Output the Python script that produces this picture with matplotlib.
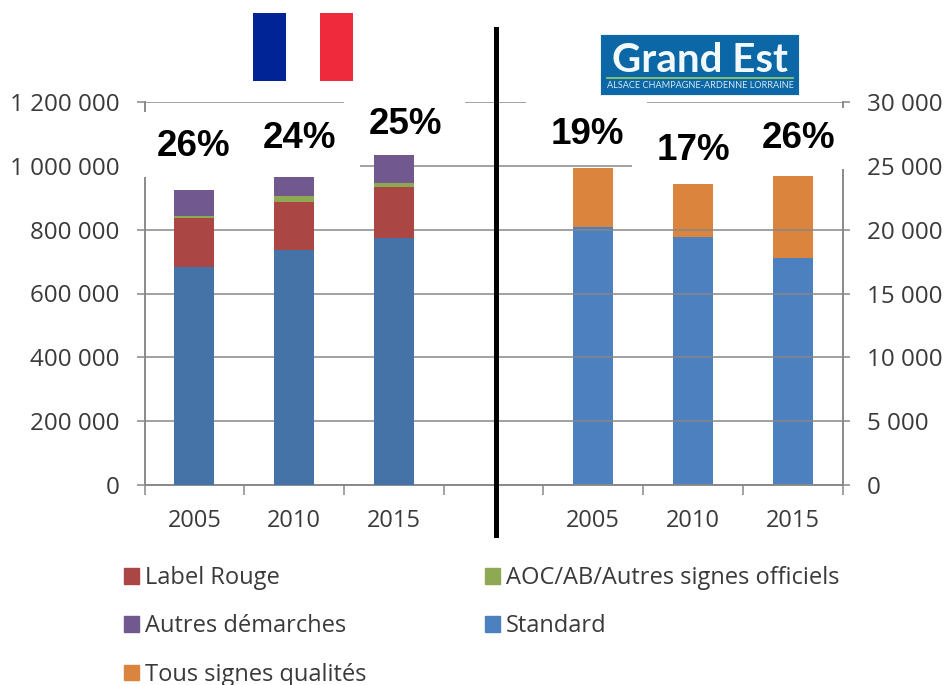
import matplotlib
matplotlib.use('Agg')
import matplotlib.pyplot as plt
from matplotlib.patches import Rectangle, FancyBboxPatch

W, H = 944, 685

years = ['2005', '2010', '2015', '', '2005', '2010', '2015']

# France, on the left axis
standard_fr = [683000, 736000, 773000]
label_rouge = [153000, 152000, 160000]
aoc = [7000, 19000, 14000]
autres = [81000, 66000, 86000]
pct_fr = ['26%', '24%', '25%']

# Grand Est, on the right axis
standard_ge = [20200, 19400, 17800]
qualite = [4600, 4150, 6400]
pct_ge = ['19%', '17%', '26%']

left_ticks = [0, 200000, 400000, 600000, 800000, 1000000, 1200000]
right_ticks = [0, 5000, 10000, 15000, 20000, 25000, 30000]


def fmt(v):
    return f'{v:,}'.replace(',', ' ')


def fx(px):
    return px / W


def fy(py):
    return 1 - py / H


plt.rcParams['font.family'] = ['Open Sans', 'DejaVu Sans']
GREY = '#878787'
TXT = '#3a3a3a'

fig = plt.figure(figsize=(W / 100, H / 100), dpi=100)
ax = fig.add_axes([fx(144.5), fy(485), fx(842.5 - 144.5), (485 - 102) / H])
ax2 = ax.twinx()
ax.set_zorder(2)
ax2.set_zorder(1)
ax.patch.set_visible(False)

pos_fr = [0, 1, 2]
pos_ge = [4, 5, 6]
w = 0.4

c_std_fr, c_std_ge = '#4572a7', '#4d80bf'
c_red, c_green, c_purple, c_orange = '#aa4643', '#8fa854', '#71588f', '#db843d'

b = [0, 0, 0]
for vals, col in [(standard_fr, c_std_fr), (label_rouge, c_red), (aoc, c_green), (autres, c_purple)]:
    ax.bar(pos_fr, vals, w, bottom=b, color=col, zorder=3)
    b = [x + y for x, y in zip(b, vals)]
ax2.bar(pos_ge, standard_ge, w, color=c_std_ge, zorder=3)
ax2.bar(pos_ge, qualite, w, bottom=standard_ge, color=c_orange, zorder=3)

ax.set_xlim(-0.5, 6.5)
ax.set_ylim(0, 1200000)
ax2.set_ylim(0, 30000)
ax.set_xticks([i - 0.5 for i in range(8)])
ax.set_xticks(range(7), minor=True)
ax.set_xticklabels([])
ax.set_xticklabels(years, minor=True)
ax.tick_params(axis='x', which='major', length=7.5, width=1.1, color=GREY)
ax.tick_params(axis='x', which='minor', length=0, pad=17, labelsize=17, labelcolor=TXT)
ax.set_yticks(left_ticks)
ax.set_yticklabels([fmt(v) for v in left_ticks])
ax.tick_params(axis='y', length=6, width=1.1, color=GREY, pad=12, labelsize=17.4, labelcolor=TXT)
ax2.set_yticks(right_ticks)
ax2.set_yticklabels([fmt(v) for v in right_ticks])
ax2.tick_params(axis='y', length=5, width=1.1, color=GREY, pad=12.5, labelsize=17.4, labelcolor=TXT)
ax.grid(axis='y', color=GREY, lw=1.1, zorder=0)
ax.set_axisbelow(True)
for a in (ax, ax2):
    a.spines['top'].set_visible(False)
    for s in ('left', 'right', 'bottom'):
        a.spines[s].set_color(GREY)
        a.spines[s].set_linewidth(1.1)

# white boxes that sat behind the percentages and hide the grid
for x0, y0, x1, y1 in [(130, 112, 360, 177), (344, 97, 465, 150),
                       (526, 97, 647, 150), (632, 108, 853, 169)]:
    fig.add_artist(Rectangle((fx(x0), fy(y1)), fx(x1 - x0), (y1 - y0) / H, color='white', lw=0, zorder=5))

# percentages
pct_xy = [(194, 147), (300, 139), (405, 125), (587, 135), (693, 150), (799, 139)]
for s, (x, y) in zip(pct_fr + pct_ge, pct_xy):
    fig.text(fx(x), fy(y), s, ha='center', va='center', fontsize=26.5, fontweight='bold',
             family='Liberation Sans', color='black', zorder=6)

# separator
fig.add_artist(plt.Line2D([fx(495.5), fx(495.5)], [fy(29), fy(535)], color='black', lw=3.6, zorder=6))

# flag
fig.add_artist(Rectangle((fx(253), fy(81)), fx(33), 68 / H, color='#002395', lw=0, zorder=6))
fig.add_artist(Rectangle((fx(320), fy(81)), fx(33), 68 / H, color='#ee2a3c', lw=0, zorder=6))

# logo
logo = '#0b67a5'
fig.add_artist(FancyBboxPatch((fx(603), fy(93)), fx(194), 56 / H, boxstyle='round,pad=0', color=logo, lw=3, zorder=6))
fig.text(fx(700), fy(72), 'Grand Est', ha='center', va='baseline', fontsize=29, fontweight='bold',
         family='Lato', color='#f2f9fc', zorder=7)
fig.add_artist(plt.Line2D([fx(607), fx(793)], [fy(77.5), fy(77.5)], color='#8ec86a', lw=1.3, zorder=7))
fig.text(fx(700), fy(86), 'ALSACE CHAMPAGNE-ARDENNE LORRAINE', ha='center', va='center', fontsize=6.6,
         family='Lato', color='#d5e8f2', zorder=7)

# legend, column by column
handles = [Rectangle((0, 0), 1, 1, color=c) for c in (c_red, c_purple, c_orange, c_green, '#4d80bf')]
labels = ['Label Rouge', 'Autres démarches', 'Tous signes qualités', 'AOC/AB/Autres signes officiels', 'Standard']
fig.legend(handles, labels, ncol=2, loc='upper left', bbox_to_anchor=(fx(124), fy(566)), borderaxespad=0,
           borderpad=0, frameon=False, fontsize=17, labelcolor=TXT, handlelength=0.64, handleheight=0.64,
           handletextpad=0.25, labelspacing=1.03, columnspacing=5.02)

fig.savefig('out.png', dpi=100)
